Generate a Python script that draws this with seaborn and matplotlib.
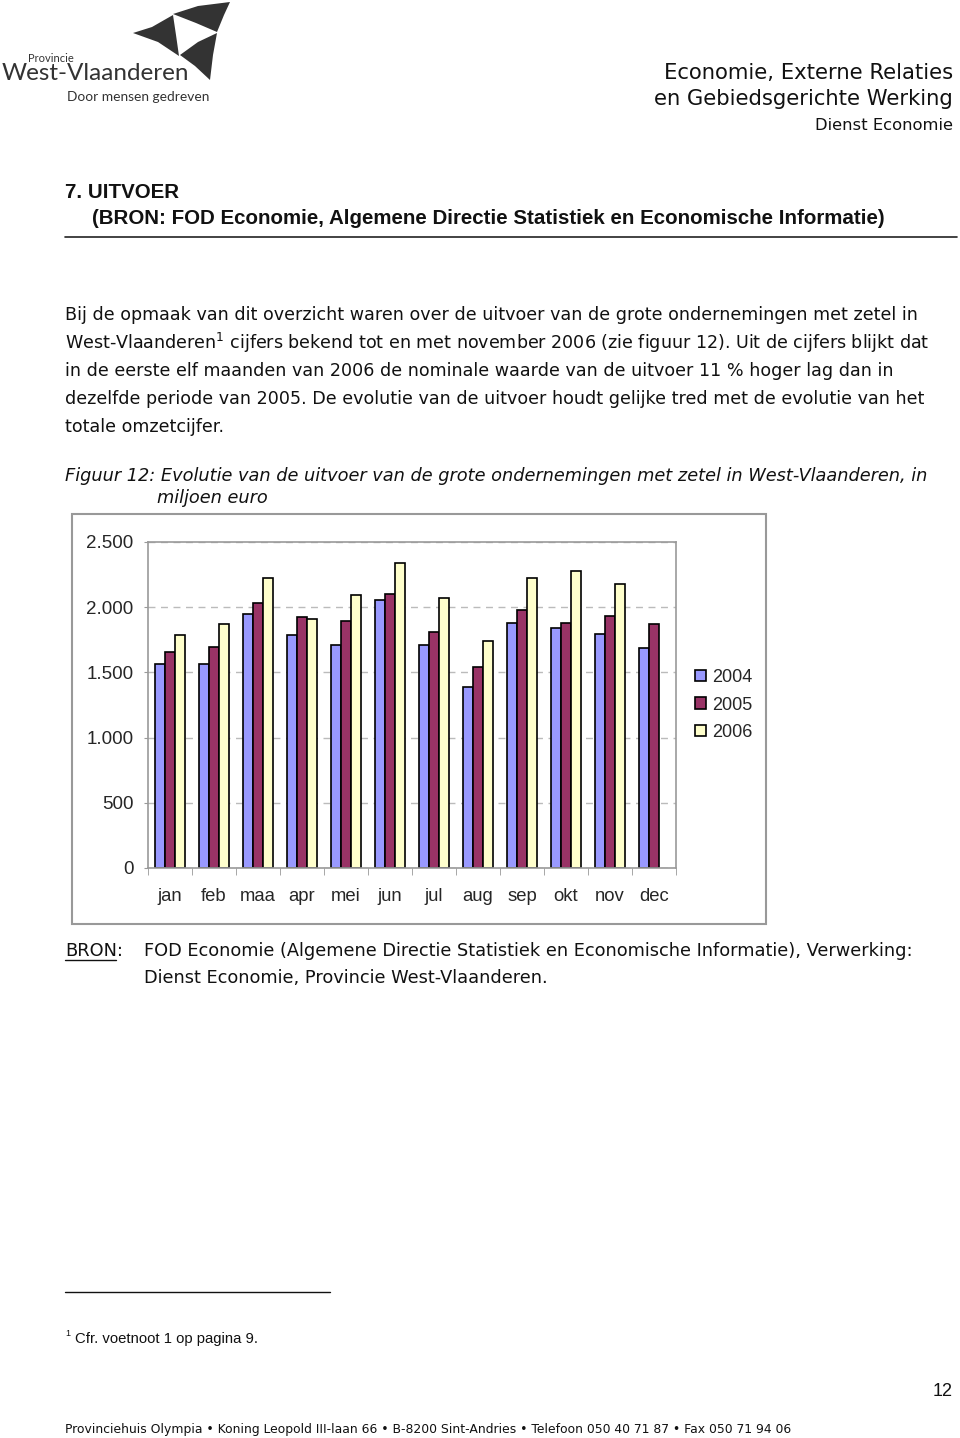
import numpy as np
import pandas as pd
import matplotlib.pyplot as plt
import seaborn as sns
from matplotlib.patches import Polygon, Rectangle
from matplotlib.lines import Line2D

# ── data (miljoen euro) ─────────────────────────────────────
months = ["jan", "feb", "maa", "apr", "mei", "jun", "jul", "aug", "sep", "okt", "nov", "dec"]
years = ["2004", "2005", "2006"]
v2004 = [1564, 1564, 1948, 1787, 1710, 2055, 1710, 1388, 1879, 1840, 1794, 1687]
v2005 = [1656, 1695, 2032, 1925, 1894, 2101, 1810, 1541, 1979, 1879, 1933, 1871]
v2006 = [1787, 1871, 2224, 1909, 2094, 2339, 2071, 1741, 2224, 2278, 2178, np.nan]
colors = ["#9999FF", "#993366", "#FFFFCC"]

df = pd.DataFrame({
    "maand": months * 3,
    "jaar": [y for y in years for _ in months],
    "waarde": v2004 + v2005 + v2006,
})

sns.set_style("white")
plt.rcParams["font.family"] = ["DejaVu Sans"]

W, H = 960, 1438
fig = plt.figure(figsize=(W / 100, H / 100), dpi=100)


def fx(x):
    return x / W


def fy(y):
    return 1 - y / H


def txt(x, y, s, **kw):
    kw.setdefault("va", "center")
    kw.setdefault("color", "#111111")
    fig.text(fx(x), fy(y), s, **kw)


# ── logo ─────────────────────────────────────────────────────
logo = "#333333"
for pts in [
    [(173, 14), (198, 6), (230, 2), (224, 15), (217, 32), (196, 23)],
    [(133, 33), (152, 27), (173, 15), (176, 35), (179, 56), (158, 42)],
    [(180, 55), (198, 42), (217, 33), (213, 55), (210, 80), (195, 66)],
]:
    fig.patches.append(Polygon([(fx(a), fy(b)) for a, b in pts], closed=True,
                               transform=fig.transFigure, color=logo, lw=0))
txt(28, 58, "Provincie", fontsize=8, color=logo, family="Lato")
txt(2, 74, "West-Vlaanderen", fontsize=17.5, color=logo, family="Lato")
txt(67, 97, "Door mensen gedreven", fontsize=9.9, color=logo, family="Lato")

# ── header ───────────────────────────────────────────────────
txt(953, 73, "Economie, Externe Relaties", fontsize=15.2, ha="right")
txt(953, 99, "en Gebiedsgerichte Werking", fontsize=15.2, ha="right")
txt(953, 126, "Dienst Economie", fontsize=11.8, ha="right")

txt(65, 192, "7. UITVOER", fontsize=14.8, fontweight="bold", family="Liberation Sans")
txt(92, 219, "(BRON: FOD Economie, Algemene Directie Statistiek en Economische Informatie)",
    fontsize=14.8, fontweight="bold", family="Liberation Sans")
fig.add_artist(Line2D([fx(65), fx(957)], [fy(237), fy(237)], color="#222222", lw=1.2))

# ── paragraph ────────────────────────────────────────────────
lines = [
    "Bij de opmaak van dit overzicht waren over de uitvoer van de grote ondernemingen met zetel in",
    "West-Vlaanderen$^{1}$ cijfers bekend tot en met november 2006 (zie figuur 12). Uit de cijfers blijkt dat",
    "in de eerste elf maanden van 2006 de nominale waarde van de uitvoer 11 % hoger lag dan in",
    "dezelfde periode van 2005. De evolutie van de uitvoer houdt gelijke tred met de evolutie van het",
    "totale omzetcijfer.",
]
for i, s in enumerate(lines):
    txt(65, 315 + 28 * i, s, fontsize=12.65)

txt(65, 476, "Figuur 12: Evolutie van de uitvoer van de grote ondernemingen met zetel in West-Vlaanderen, in",
    fontsize=12.75, style="italic")
txt(157, 498, "miljoen euro", fontsize=12.75, style="italic")

# ── chart frame ──────────────────────────────────────────────
fig.patches.append(Rectangle((fx(72), fy(924)), fx(766) - fx(72), fy(514) - fy(924),
                             transform=fig.transFigure, facecolor="white",
                             edgecolor="#999999", lw=1.5, zorder=-5))

ax = fig.add_axes([fx(148), fy(868), fx(676) - fx(148), fy(542) - fy(868)])
ax.patch.set_alpha(0)
sns.barplot(data=df, x="maand", y="waarde", hue="jaar", palette=colors,
            width=0.7, edgecolor="black", linewidth=1.2, saturation=1, ax=ax)
ax.set_ylim(0, 2500)
ax.set_xlim(-0.5, 11.5)
ax.set_yticks([0, 500, 1000, 1500, 2000, 2500])
ax.set_yticklabels(["0", "500", "1.000", "1.500", "2.000", "2.500"])
ax.set_xticks(np.arange(-0.5, 12, 1), minor=True)
ax.yaxis.grid(True, color="#BBBBBB", linestyle=(0, (5, 4)), lw=1)
ax.set_axisbelow(True)
for sp in ax.spines.values():
    sp.set_color("#999999")
    sp.set_linewidth(1.2)
ax.tick_params(axis="x", which="major", length=0, pad=14.5, labelsize=13.3)
ax.tick_params(axis="x", which="minor", length=5, color="#999999", bottom=True)
ax.tick_params(axis="y", length=3, color="#999999", left=True, labelsize=13.5, pad=7.5)
for lab in ax.get_xticklabels() + ax.get_yticklabels():
    lab.set_family("Liberation Sans")
ax.set_xlabel("")
ax.set_ylabel("")

handles, labels = ax.get_legend_handles_labels()
ax.legend(handles, labels, loc="center left", bbox_to_anchor=(fx(695), fy(705)),
          bbox_transform=fig.transFigure, frameon=False, borderpad=0,
          borderaxespad=0, handlelength=0.6, handleheight=0.6,
          handletextpad=0.35, labelspacing=0.58,
          prop={"family": "Liberation Sans", "size": 13})

# ── source ───────────────────────────────────────────────────
txt(65, 951, "BRON:", fontsize=12.8)
fig.add_artist(Line2D([fx(65), fx(116)], [fy(960), fy(960)], color="#111111", lw=1))
txt(144, 951, "FOD Economie (Algemene Directie Statistiek en Economische Informatie), Verwerking:",
    fontsize=12.8)
txt(144, 978, "Dienst Economie, Provincie West-Vlaanderen.", fontsize=12.8)

# ── footnote & footer ────────────────────────────────────────
fig.add_artist(Line2D([fx(65), fx(330)], [fy(1292), fy(1292)], color="#111111", lw=1))
txt(65, 1334, "1", fontsize=6.5, family="Liberation Sans")
txt(75, 1339, "Cfr. voetnoot 1 op pagina 9.", fontsize=10.7, family="Liberation Sans")
txt(953, 1392, "12", fontsize=13, ha="right", family="Liberation Sans")
txt(65, 1430, "Provinciehuis Olympia \u2022 Koning Leopold III-laan 66 \u2022 B-8200 Sint-Andries "
    "\u2022 Telefoon 050 40 71 87 \u2022 Fax 050 71 94 06",
    fontsize=8.9, family=["DejaVu Sans Condensed", "DejaVu Sans"])

fig.savefig("out.png", dpi=100)
